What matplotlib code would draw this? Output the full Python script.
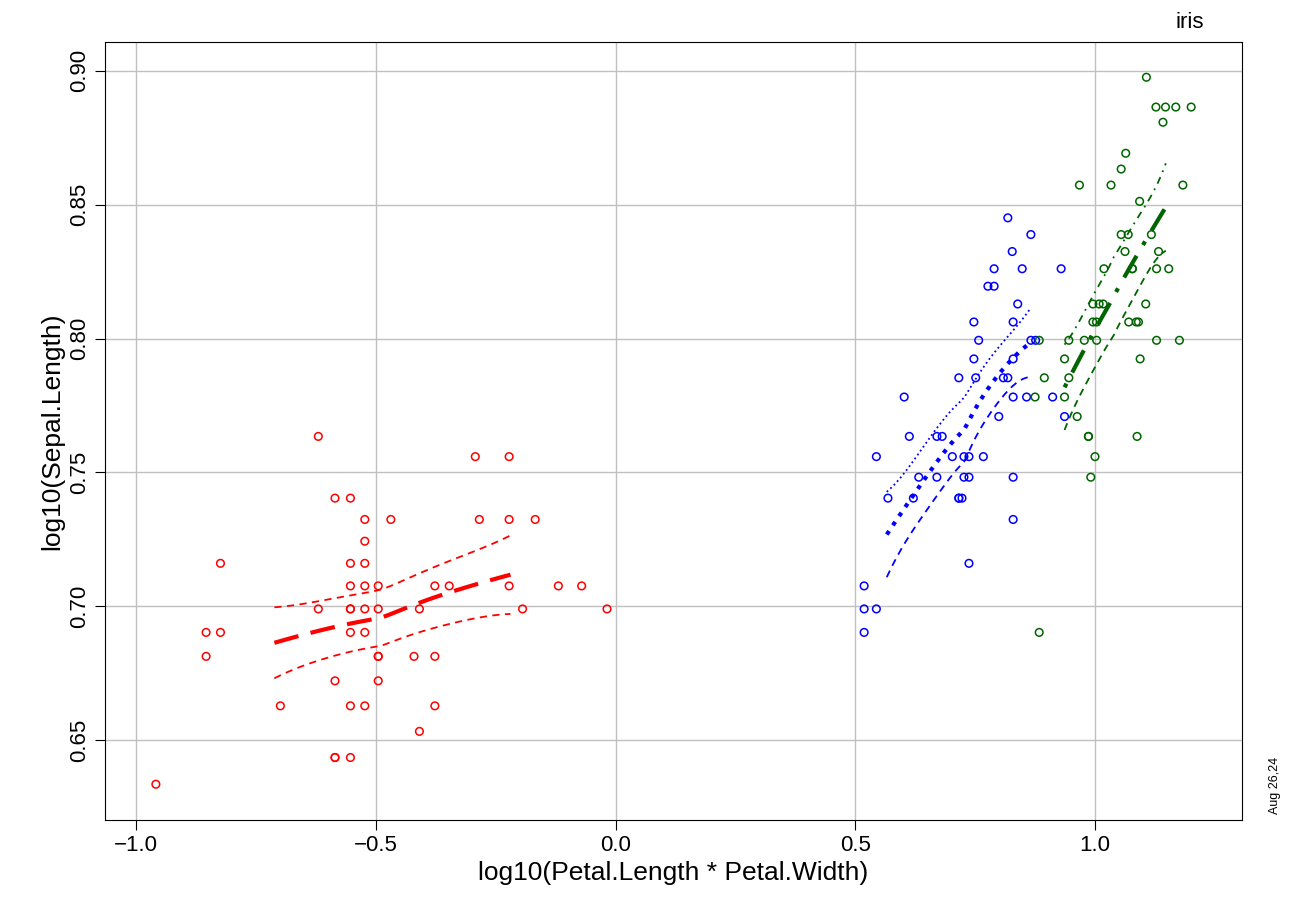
import numpy as np
import matplotlib
matplotlib.use("Agg")
import matplotlib.pyplot as plt
plt.rcParams['font.family'] = ['Liberation Sans', 'DejaVu Sans']

species = ["setosa", "versicolor", "virginica"]
colors = ["red", "blue", "darkgreen"]
sepal_length = [5.1,4.9,4.7,4.6,5.0,5.4,4.6,5.0,4.4,4.9,5.4,4.8,4.8,4.3,5.8,5.7,5.4,5.1,5.7,5.1,5.4,5.1,4.6,5.1,4.8,5.0,5.0,5.2,5.2,4.7,4.8,5.4,5.2,5.5,4.9,5.0,5.5,4.9,4.4,5.1,5.0,4.5,4.4,5.0,5.1,4.8,5.1,4.6,5.3,5.0,
 7.0,6.4,6.9,5.5,6.5,5.7,6.3,4.9,6.6,5.2,5.0,5.9,6.0,6.1,5.6,6.7,5.6,5.8,6.2,5.6,5.9,6.1,6.3,6.1,6.4,6.6,6.8,6.7,6.0,5.7,5.5,5.5,5.8,6.0,5.4,6.0,6.7,6.3,5.6,5.5,5.5,6.1,5.8,5.0,5.6,5.7,5.7,6.2,5.1,5.7,
 6.3,5.8,7.1,6.3,6.5,7.6,4.9,7.3,6.7,7.2,6.5,6.4,6.8,5.7,5.8,6.4,6.5,7.7,7.7,6.0,6.9,5.6,7.7,6.3,6.7,7.2,6.2,6.1,6.4,7.2,7.4,7.9,6.4,6.3,6.1,7.7,6.3,6.4,6.0,6.9,6.7,6.9,5.8,6.8,6.7,6.7,6.3,6.5,6.2,5.9]
petal_length = [1.4,1.4,1.3,1.5,1.4,1.7,1.4,1.5,1.4,1.5,1.5,1.6,1.4,1.1,1.2,1.5,1.3,1.4,1.7,1.5,1.7,1.5,1.0,1.7,1.9,1.6,1.6,1.5,1.4,1.6,1.6,1.5,1.5,1.4,1.5,1.2,1.3,1.4,1.3,1.5,1.3,1.3,1.3,1.6,1.9,1.4,1.6,1.4,1.5,1.4,
 4.7,4.5,4.9,4.0,4.6,4.5,4.7,3.3,4.6,3.9,3.5,4.2,4.0,4.7,3.6,4.4,4.5,4.1,4.5,3.9,4.8,4.0,4.9,4.7,4.3,4.4,4.8,5.0,4.5,3.5,3.8,3.7,3.9,5.1,4.5,4.5,4.7,4.4,4.1,4.0,4.4,4.6,4.0,3.3,4.2,4.2,4.2,4.3,3.0,4.1,
 6.0,5.1,5.9,5.6,5.8,6.6,4.5,6.3,5.8,6.1,5.1,5.3,5.5,5.0,5.1,5.3,5.5,6.7,6.9,5.0,5.7,4.9,6.7,4.9,5.7,6.0,4.8,4.9,5.6,5.8,6.1,6.4,5.6,5.1,5.6,6.1,5.6,5.5,4.8,5.4,5.6,5.1,5.1,5.9,5.7,5.2,5.0,5.2,5.4,5.1]
petal_width = [0.2,0.2,0.2,0.2,0.2,0.4,0.3,0.2,0.2,0.1,0.2,0.2,0.1,0.1,0.2,0.4,0.4,0.3,0.3,0.3,0.2,0.4,0.2,0.5,0.2,0.2,0.4,0.2,0.2,0.2,0.2,0.4,0.1,0.2,0.2,0.2,0.2,0.1,0.2,0.2,0.3,0.3,0.2,0.6,0.4,0.3,0.2,0.2,0.2,0.2,
 1.4,1.5,1.5,1.3,1.5,1.3,1.6,1.0,1.3,1.4,1.0,1.5,1.0,1.4,1.3,1.4,1.5,1.0,1.5,1.1,1.8,1.3,1.5,1.2,1.3,1.4,1.4,1.7,1.5,1.0,1.1,1.0,1.2,1.6,1.5,1.6,1.5,1.3,1.3,1.3,1.2,1.4,1.2,1.0,1.3,1.2,1.3,1.3,1.1,1.3,
 2.5,1.9,2.1,1.8,2.2,2.1,1.7,1.8,1.8,2.5,2.0,1.9,2.1,2.0,2.4,2.3,1.8,2.2,2.3,1.5,2.3,2.0,2.0,1.8,2.1,1.8,1.8,1.8,2.1,1.6,1.9,2.0,2.2,1.5,1.4,2.3,2.4,1.8,1.8,2.1,2.4,2.3,1.9,2.3,2.5,2.3,1.9,2.0,2.3,1.8]

x_all = np.log10(np.array(petal_length) * np.array(petal_width))
y_all = np.log10(np.array(sepal_length))

def loess(x, y, grid, span=1.0):
    n = len(x); q = int(np.ceil(span * n))
    L = np.zeros((len(grid), n))
    for i, g in enumerate(grid):
        d = np.abs(x - g); h = np.sort(d)[q - 1] * 1.05 + 1e-12
        w = np.clip(1 - (d / h) ** 3, 0, None) ** 3
        X = np.column_stack([np.ones(n), x - g, (x - g) ** 2])
        W = np.diag(w)
        A = np.linalg.pinv(X.T @ W @ X) @ X.T @ W
        L[i] = A[0]
    return L

fig = plt.figure(figsize=(12.96, 9.18), dpi=100)
ax = fig.add_axes([105/1296, 1-820/918, (1242-105)/1296, (820-42)/918])
ax.grid(True, color="#c0c0c0", lw=1)
ax.set_axisbelow(True)
fit_styles = [(0, (6, 3)), ":", (0, (1, 3, 6, 3))]
up_styles = [(0, (4, 3)), ":", (0, (1, 3, 4, 3))]
for k in range(3):
    x = x_all[50*k:50*k+50]; y = y_all[50*k:50*k+50]
    ax.scatter(x, y, s=30, facecolors="none", edgecolors=colors[k], lw=1.1, zorder=3)
    Lx = loess(x, y, x); fitted = Lx @ y
    tr = np.trace(Lx); s2 = np.sum((y - fitted) ** 2) / (50 - tr)
    lo, hi = np.quantile(x, [0.1, 0.9])
    grid = np.linspace(lo, hi, 40)
    L = loess(x, y, grid); f = L @ y
    se = np.sqrt(s2 * np.sum(L ** 2, axis=1))
    ax.plot(grid, f, color=colors[k], ls=fit_styles[k], lw=3, zorder=4)
    ax.plot(grid, f + 2 * se, color=colors[k], ls=up_styles[k], lw=1.3, zorder=4)
    ax.plot(grid, f - 2 * se, color=colors[k], ls=(0, (4, 3)), lw=1.3, zorder=4)

ax.set_xlim(-1.0647, 1.3066)
ax.set_ylim(0.6201, 0.9108)
ax.set_xticks([-1.0, -0.5, 0.0, 0.5, 1.0])
ax.set_xticklabels(["\u22121.0", "\u22120.5", "0.0", "0.5", "1.0"])
ax.set_yticks([0.65, 0.70, 0.75, 0.80, 0.85, 0.90])
ax.set_yticklabels(["0.65", "0.70", "0.75", "0.80", "0.85", "0.90"], rotation=90, va="center")
ax.tick_params(labelsize=16, length=7, color="black")
for s in ax.spines.values():
    s.set_color("black")
ax.set_xlabel("log10(Petal.Length * Petal.Width)", fontsize=19)
ax.set_ylabel("log10(Sepal.Length)", fontsize=19)
fig.text(1190/1296, 1-22/918, "iris", fontsize=16, ha="center", va="center")
fig.text(1275/1296, 1-785/918, "Aug 26,24", fontsize=9, rotation=90, ha="center", va="center")
fig.savefig("out.png", dpi=100)
